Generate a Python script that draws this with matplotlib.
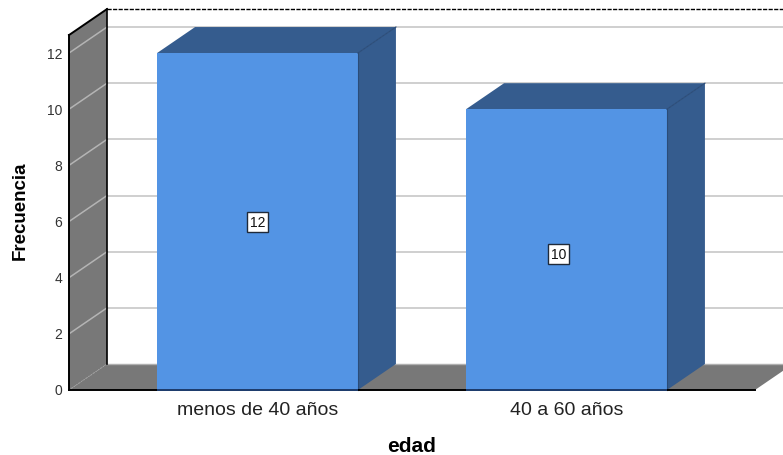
#!/usr/bin/env python3
"""Frequency of respondents by age group, drawn as a 3D-look bar chart"""

import matplotlib
matplotlib.use('Agg')
import matplotlib.pyplot as plt
from matplotlib.patches import Polygon
from matplotlib.transforms import ScaledTranslation

categories = ['menos de 40 años', '40 a 60 años']
frequencies = [12, 10]
y_ticks = [0, 2, 4, 6, 8, 10, 12]

plt.rcParams['font.family'] = ['Liberation Sans', 'DejaVu Sans']

WALL = '#787878'
FRONT = '#5394E4'
DARK = '#355C8E'
GRID = '#CFCFCF'

# Axis ranges of the front plane and the shift to the back plane
BAR_WIDTH = 0.65
X_LEFT, X_RIGHT = -0.61, 1.61
Y_TOP = 12.64
DX, DY = 0.123, 0.926

fig = plt.figure(figsize=(7.83, 4.56), dpi=100, facecolor='white')
ax = fig.add_axes([0, 0, 1, 1])
ax.set_xlim(-257.5 / 309, 525.5 / 309)
ax.set_ylim(-65 / 28.08, 391 / 28.08)
ax.patch.set_visible(False)

# Back wall grid
for tick in y_ticks[1:]:
    ax.plot([X_LEFT + DX, X_RIGHT + DX], [tick + DY, tick + DY], color=GRID, lw=1.4, zorder=1)
    ax.plot([X_LEFT, X_LEFT + DX], [tick, tick + DY], color='#B4B4B4', lw=1.1, zorder=3)

# Floor and left wall
ax.add_patch(Polygon([(X_LEFT, 0), (X_RIGHT, 0), (X_RIGHT + DX, DY), (X_LEFT + DX, DY)],
                     closed=True, facecolor=WALL, edgecolor='none', zorder=2))
ax.plot([X_LEFT + DX, X_RIGHT + DX], [DY, DY], color='#B0B0B0', lw=1, zorder=2)
ax.add_patch(Polygon([(X_LEFT, 0), (X_LEFT + DX, DY), (X_LEFT + DX, Y_TOP + DY), (X_LEFT, Y_TOP)],
                     closed=True, facecolor=WALL, edgecolor='none', zorder=2))
ax.plot([X_LEFT, X_LEFT + DX], [0, DY], color='#A0A0A0', lw=0.8, ls=':', zorder=4)

# Wall outlines
ax.plot([X_LEFT + DX, X_LEFT + DX], [DY, Y_TOP + DY], color='black', lw=1.2, zorder=4)
ax.plot([X_LEFT, X_LEFT + DX], [Y_TOP, Y_TOP + DY], color='black', lw=1.4, zorder=4)
ax.plot([X_LEFT + DX, X_RIGHT + DX], [Y_TOP + DY, Y_TOP + DY], color='black', lw=1, ls=(0, (3, 1)), zorder=4)

# Bars: front face, then top and side faces
positions = list(range(len(categories)))
ax.bar(positions, frequencies, width=BAR_WIDTH, color=FRONT, zorder=6)
for pos, value in zip(positions, frequencies):
    left, right = pos - BAR_WIDTH / 2, pos + BAR_WIDTH / 2
    ax.add_patch(Polygon([(left, value), (right, value), (right + DX, value + DY), (left + DX, value + DY)],
                         closed=True, facecolor=DARK, edgecolor='none', zorder=5))
    ax.add_patch(Polygon([(right, 0), (right + DX, DY), (right + DX, value + DY), (right, value)],
                         closed=True, facecolor=DARK, edgecolor='none', zorder=5))
    ax.plot([right, right + DX], [value, value + DY], color='#2B4C78', lw=0.8, zorder=6)
    ax.plot([right, right], [0, value], color='#2B4C78', lw=0.8, zorder=6)
    # Base line turns navy under the bars
    ax.plot([left, right], [0, 0], color='#1F3F70', lw=1.4, zorder=8, solid_capstyle='butt')

# Value labels inside the bars
label_x = [0, 0.975]
label_y = [5.98, 4.84]
for x, y, value in zip(label_x, label_y, frequencies):
    ax.text(x, y, str(value), ha='center', va='center', fontsize=10, color='#111111', zorder=8,
            bbox=dict(boxstyle='square,pad=0.2', facecolor='white', edgecolor='#1F2A3A', linewidth=1))

# Axes
for side in ['top', 'right']:
    ax.spines[side].set_visible(False)
ax.spines['left'].set_position(('data', X_LEFT))
ax.spines['left'].set_bounds(0, Y_TOP)
ax.spines['left'].set_linewidth(1.4)
ax.spines['left'].set_zorder(7)
ax.spines['bottom'].set_position(('data', 0))
ax.spines['bottom'].set_bounds(X_LEFT, X_RIGHT)
ax.spines['bottom'].set_linewidth(1.4)
ax.spines['bottom'].set_zorder(7)

ax.set_yticks(y_ticks)
ax.set_xticks(positions)
ax.set_xticklabels(categories)
ax.tick_params(axis='y', length=0, pad=5, labelsize=10, labelcolor='#333333')
ax.tick_params(axis='x', length=0, pad=8, labelsize=14, labelcolor='#222222')

# Nudge the value ticks to sit level with their gridlines
nudge = ScaledTranslation(0, 1 / 100, fig.dpi_scale_trans)
for label in ax.get_yticklabels():
    label.set_transform(label.get_transform() + nudge)

ax.text(-0.767, 6.42, 'Frecuencia', rotation=90, ha='center', va='center', fontsize=13.5, fontweight='bold')
ax.text(0.5, -1.97, 'edad', ha='center', va='center', fontsize=15, fontweight='bold')

plt.savefig('out.png', dpi=100)
